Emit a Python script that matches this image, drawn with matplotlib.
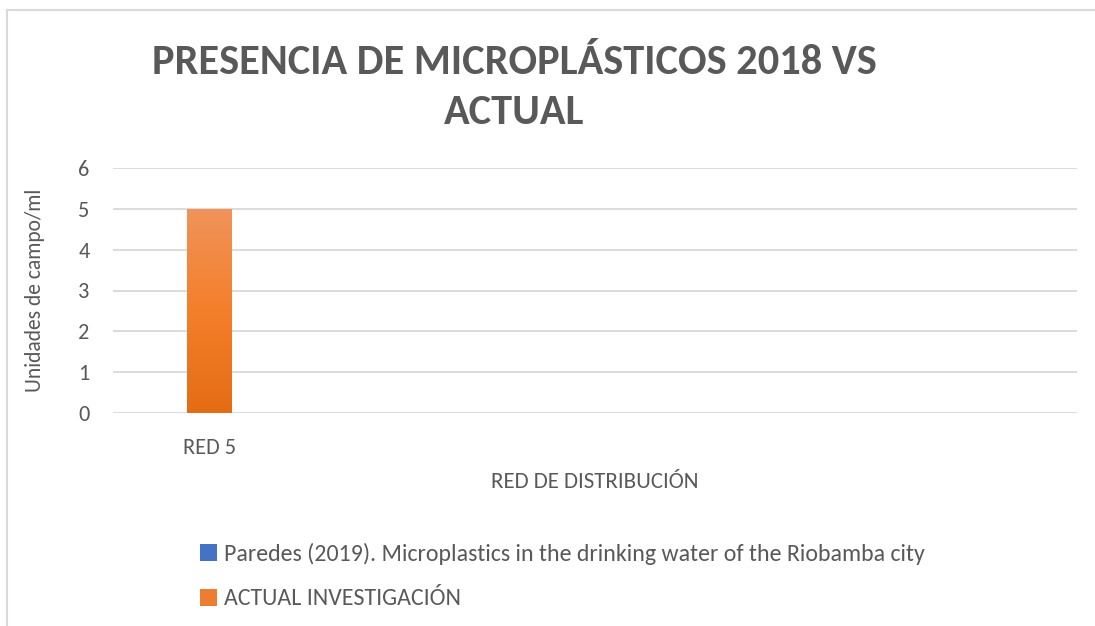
import numpy as np
import matplotlib
matplotlib.use("Agg")
import matplotlib.pyplot as plt
from matplotlib import font_manager
from matplotlib.patches import Patch
from matplotlib.lines import Line2D

# data
categories = ["RED 5"]
series_names = ["Paredes (2019). Microplastics in the drinking water of the Riobamba city",
                "ACTUAL INVESTIGACIÓN"]
paredes = [0]
actual = [5]
yticks = [0, 1, 2, 3, 4, 5, 6]

names = {f.name for f in font_manager.fontManager.ttflist}
font = "Carlito" if "Carlito" in names else "Lato"
plt.rcParams["font.family"] = [font, "DejaVu Sans"]

grey = "#595959"
blue = "#4472C4"
orange = "#ED7D31"

fig = plt.figure(figsize=(10.95, 6.26), dpi=100)
W, H = 1095, 626
ax = fig.add_axes([113 / W, 1 - 413 / H, (1077 - 113) / W, (413 - 168) / H])

x = np.arange(len(categories))
bw = 0.23
ax.bar(x, paredes, bw, color=blue, zorder=3)
bars = ax.bar(x, actual, bw, color=orange, zorder=3)

# orange gradient inside the bar, light at top, darker at bottom
cmap = matplotlib.colors.LinearSegmentedColormap.from_list(
    "og", ["#E46C15", "#F47F2A", "#F0935B"])
for b in bars:
    x0, y0, w, h = b.get_x(), b.get_y(), b.get_width(), b.get_height()
    grad = np.linspace(0, 1, 256).reshape(-1, 1)
    im = ax.imshow(grad, cmap=cmap, origin="lower", aspect="auto",
                   extent=[x0, x0 + w, y0, y0 + h], zorder=4)
    im.set_clip_path(b)

ax.set_xlim(-0.5, 4.5)
ax.set_ylim(0, 6)
ax.set_yticks(yticks)
ax.set_xticks(x)
ax.set_xticklabels(categories)
ax.yaxis.grid(True, color="#D9D9D9", lw=1.3)
ax.set_axisbelow(True)
for s in ax.spines.values():
    s.set_visible(False)
ax.tick_params(axis="both", length=0, labelsize=16, labelcolor=grey)
ax.tick_params(axis="y", pad=17)
ax.tick_params(axis="x", pad=18)
ax.set_ylabel("Unidades de campo/ml", fontsize=15.5, color=grey, labelpad=24)
ax.set_xlabel("RED DE DISTRIBUCIÓN", fontsize=16.5, color=grey, labelpad=10)

fig.text(514 / W, 1 - 62 / H, "PRESENCIA DE MICROPLÁSTICOS 2018 VS",
         ha="center", va="center", fontsize=30.5, fontweight="bold", color=grey)
fig.text(514 / W, 1 - 113 / H, "ACTUAL",
         ha="center", va="center", fontsize=30.5, fontweight="bold", color=grey)

handles = [Patch(facecolor=blue), Patch(facecolor=orange)]
fig.legend(handles, series_names, loc="upper left",
           bbox_to_anchor=(178 / W, 1 - 521 / H), frameon=False,
           fontsize=17.2, labelcolor=grey, handlelength=0.72, handleheight=0.72,
           handletextpad=0.3, labelspacing=1.0)

# chart area border (top and left edges visible)
fig.add_artist(Line2D([7 / W, 1], [1 - 10 / H, 1 - 10 / H], color="#D9D9D9", lw=1.5))
fig.add_artist(Line2D([7 / W, 7 / W], [0, 1 - 10 / H], color="#D9D9D9", lw=1.5))

fig.savefig("out.png", dpi=100, facecolor="white")
